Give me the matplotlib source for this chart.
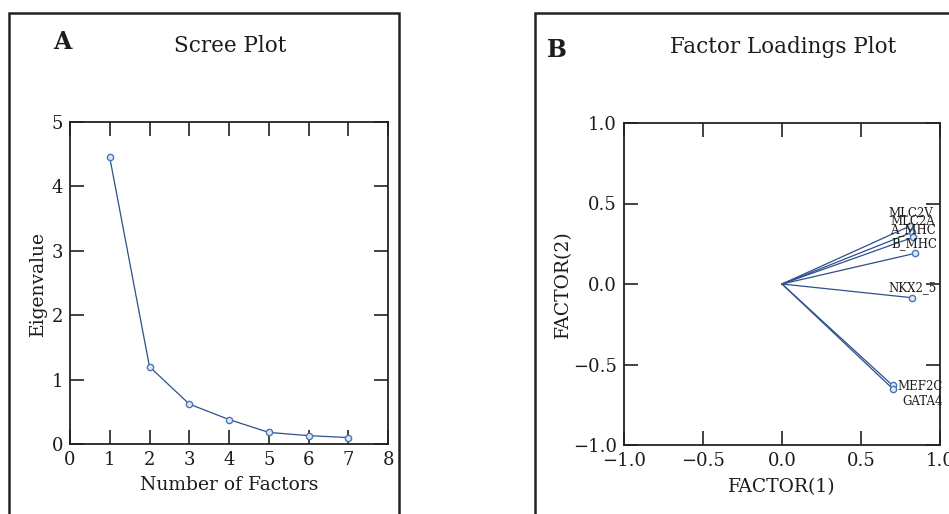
import matplotlib
matplotlib.use("Agg")
import matplotlib.pyplot as plt
from matplotlib.patches import Rectangle

# ---- data ----
n_factors = [1, 2, 3, 4, 5, 6, 7]
eigenvalues = [4.45, 1.20, 0.62, 0.38, 0.18, 0.13, 0.10]

genes = ["MLC2V", "MLC2A", "A_MHC", "B_MHC", "NKX2_5", "MEF2C", "GATA4"]
factor1 = [0.81, 0.82, 0.83, 0.84, 0.82, 0.70, 0.70]
factor2 = [0.36, 0.32, 0.29, 0.19, -0.085, -0.63, -0.65]

scree_xticks = [0, 1, 2, 3, 4, 5, 6, 7, 8]
scree_yticks = [0, 1, 2, 3, 4, 5]
load_ticks = [-1.0, -0.5, 0.0, 0.5, 1.0]

# label placement (pixel offsets from each point, alignment)
label_style = {
    "MLC2V": ((1, 13), "center"),
    "MLC2A": ((1, 10.5), "center"),
    "A_MHC": ((0, 8), "center"),
    "B_MHC": ((0, 10), "center"),
    "NKX2_5": ((1, 10.5), "center"),
    "MEF2C": ((5, -1.5), "left"),
    "GATA4": ((10, -13), "left"),
}

TEXT = "#1c1c1c"
LINE = "#2f4f8c"
MARK = "#4a74b8"
SERIF = ["DejaVu Serif"]

plt.rcParams["font.family"] = SERIF
plt.rcParams["axes.unicode_minus"] = True

W, H = 949, 514
fig = plt.figure(figsize=(W / 100, H / 100), dpi=100)


def fx(px):
    return px / W


def fy(py):
    return 1 - py / H


# panel frames (extend past the figure edges)
fig.patches.append(Rectangle((fx(9), fy(530)), fx(399 - 9), fy(13) - fy(530),
                             transform=fig.transFigure, fill=False,
                             lw=1.8, edgecolor="#222222"))
fig.patches.append(Rectangle((fx(535), fy(530)), fx(980 - 535), fy(13) - fy(530),
                             transform=fig.transFigure, fill=False,
                             lw=1.8, edgecolor="#222222"))


def style_axes(ax):
    for s in ax.spines.values():
        s.set_linewidth(1.3)
        s.set_color("#222222")
    ax.tick_params(direction="in", length=10, width=1.2, top=True, right=True,
                   labelsize=13, colors="#222222", labelcolor=TEXT, pad=5)


# ---- Panel A: scree plot ----
axA = fig.add_axes([fx(70), fy(444), fx(388 - 70), fy(122) - fy(444)])
axA.plot(n_factors, eigenvalues, color=LINE, lw=0.9, marker="o", ms=4.5,
         mfc="#dfe8f6", mec=MARK, mew=1.0)
axA.set_xlim(0, 8)
axA.set_ylim(0, 5)
axA.set_xticks(scree_xticks)
axA.set_yticks(scree_yticks)
style_axes(axA)
axA.set_xlabel("Number of Factors", fontsize=13.5, color=TEXT, labelpad=5)
axA.set_ylabel("Eigenvalue", fontsize=13.5, color=TEXT, labelpad=3)

fig.text(fx(62), fy(42), "A", fontsize=17, fontweight="bold", color=TEXT,
         ha="center", va="center")
fig.text(fx(230), fy(46), "Scree Plot", fontsize=15.5, color=TEXT,
         ha="center", va="center")

# ---- Panel B: factor loadings ----
axB = fig.add_axes([fx(624), fy(445), fx(940 - 624), fy(123) - fy(445)])
for g, x, y in zip(genes, factor1, factor2):
    axB.plot([0, x], [0, y], color=LINE, lw=0.9)
axB.plot(factor1, factor2, ls="none", marker="o", ms=4.5, mfc="#dfe8f6",
         mec=MARK, mew=1.0)
for g, x, y in zip(genes, factor1, factor2):
    (dx, dy), ha = label_style[g]
    axB.annotate(g, (x, y), xytext=(dx, dy), textcoords="offset pixels",
                 ha=ha, va="center", fontsize=8.5, color=TEXT,
                 family=["DejaVu Serif"], annotation_clip=False)
axB.set_xlim(-1, 1)
axB.set_ylim(-1, 1)
axB.set_xticks(load_ticks)
axB.set_yticks(load_ticks)
axB.set_xticklabels([f"{t:.1f}".replace("-", "\u2212") for t in load_ticks])
axB.set_yticklabels([f"{t:.1f}".replace("-", "\u2212") for t in load_ticks])
style_axes(axB)
axB.set_xlabel("FACTOR(1)", fontsize=13.5, color=TEXT, labelpad=6)
axB.set_ylabel("FACTOR(2)", fontsize=13.5, color=TEXT, labelpad=1)

fig.text(fx(557), fy(50), "B", fontsize=17, fontweight="bold", color=TEXT,
         ha="center", va="center")
fig.text(fx(783), fy(47), "Factor Loadings Plot", fontsize=15.5, color=TEXT,
         ha="center", va="center")

fig.savefig("out.png", dpi=100, facecolor="white")
